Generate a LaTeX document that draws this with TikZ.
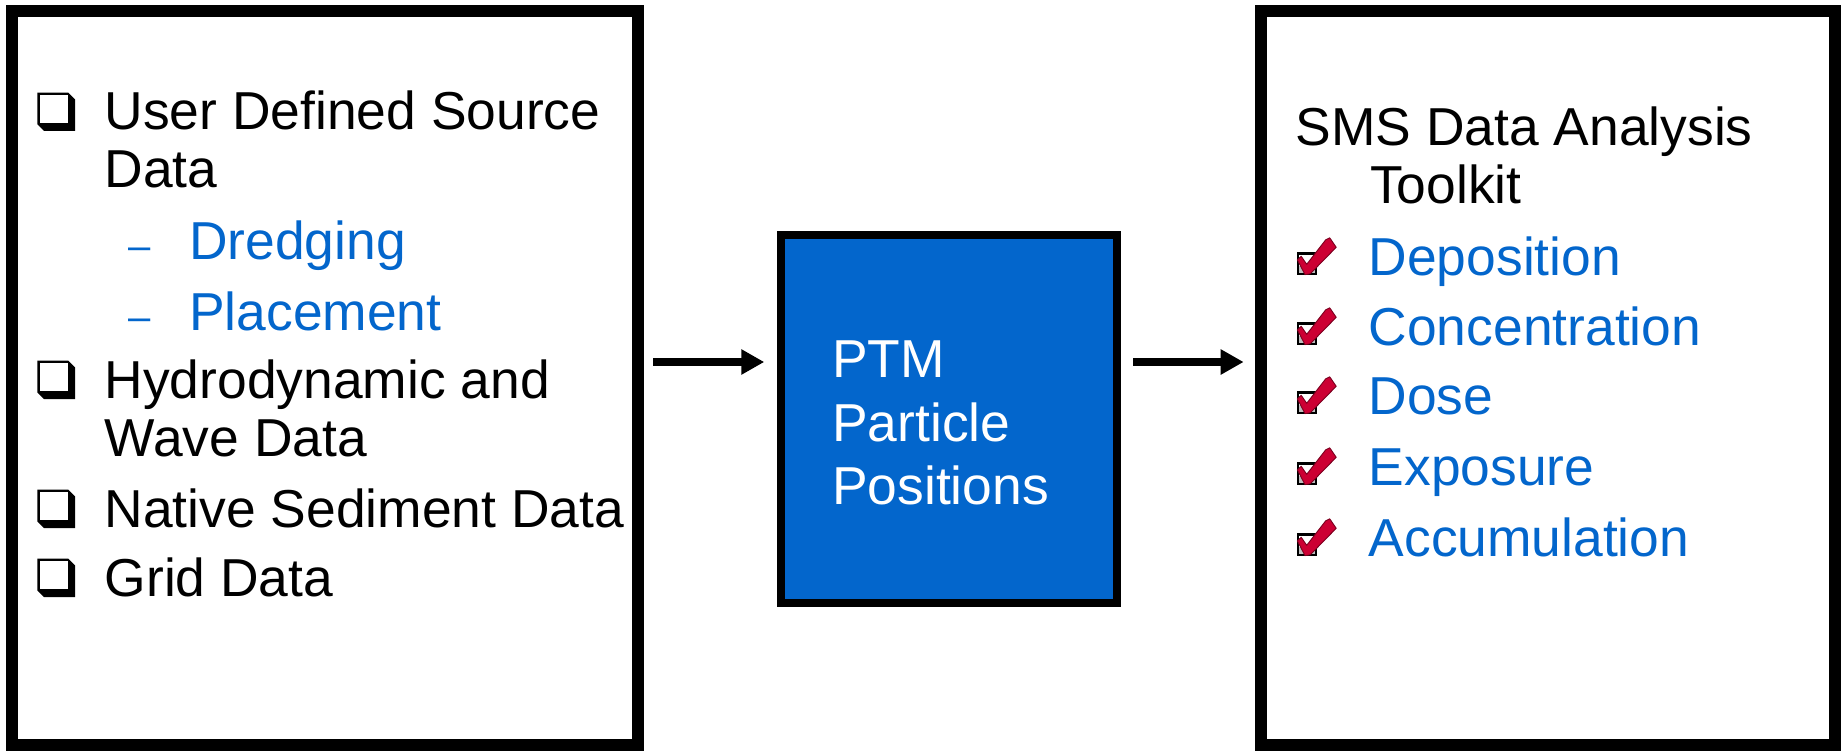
\documentclass[tikz,border=0pt]{standalone}
\usepackage{fontspec}
\setmainfont{Liberation Sans}
\usetikzlibrary{arrows.meta}
\definecolor{ptmblue}{RGB}{3,102,204}
\definecolor{chkred}{RGB}{204,0,51}
\begin{document}
\begin{tikzpicture}[x=1pt,y=-1pt,
  frame/.style={draw=black, line width=12pt, fill=white, inner sep=0pt},
  core/.style={draw=black, line width=8.5pt, fill=ptmblue, inner sep=0pt},
  item/.style={anchor=base west, inner sep=0pt, font=\fontsize{53.4}{64}\selectfont},
  subitem/.style={item, text=ptmblue},
  coretext/.style={item, text=white},
  bulletdash/.style={anchor=base west, inner sep=0pt, text=ptmblue, font=\fontsize{40}{48}\selectfont},
  link/.style={line width=7.5pt, -{Triangle[length=23pt,width=24pt]}},
  qbox/.pic={
    \fill[black] (0,-37.3) -- (31,-37.3) -- (37.7,-30.6) -- (37.7,1) -- (6.7,1) -- (0,-5.7) -- cycle;
    \fill[white] (2.7,-34.6) rectangle (31,-6.7);
  },
  tick/.pic={
    \filldraw[fill=white, draw=black, line width=2.5pt] (1.25,1.25) rectangle (19.35,21.45);
    \fill[black!25] (2.6,14) rectangle (18,20.2);
    \filldraw[fill=chkred, draw=chkred!60!black, line width=0.9pt, line join=round]
      (0.6,7.5) -- (4.5,4) -- (10,12) -- (29,-12.5) -- (33,-14.5) -- (39.5,-5)
      -- (13.5,21.5) -- (8.3,22.3) -- cycle;
  }]
\useasboundingbox (0,0) rectangle (1843,751);

% boxes
\node[frame, minimum width=626pt, minimum height=734pt] (inputs) at (325,378) {};
\node[frame, minimum width=574pt, minimum height=734pt] (toolkit) at (1548,378) {};
\node[core, minimum width=336pt, minimum height=367.7pt] (ptm) at (949,418.9) {};

% connectors
\coordinate (flow) at (0,362);
\draw[link, shorten <=9pt, shorten >=12.5pt] (inputs.east |- flow) -- (ptm.west |- flow);
\draw[link, shorten <=11.75pt, shorten >=11.4pt] (ptm.east |- flow) -- (toolkit.west |- flow);

% left list
\pic at (37.3,130) {qbox};
\node[item] (src1) at (104.5,130) {User Defined Source};
\node[item] (src2) at (104.5,188) {Data};
\node[bulletdash] (d1) at (128.3,259) {–};
\node[subitem] (dredge) at (189,259) {Dredging};
\node[bulletdash] (d2) at (128.3,330) {–};
\node[subitem] (place) at (189,330) {Placement};
\pic at (37.3,398) {qbox};
\node[item] (hyd1) at (104.5,398) {Hydrodynamic and};
\node[item] (hyd2) at (104.5,456) {Wave Data};
\pic at (37.3,527) {qbox};
\node[item] (sed) at (104.5,527) {Native Sediment Data};
\pic at (37.3,596) {qbox};
\node[item] (grid) at (104.5,596) {Grid Data};

% middle text
\node[coretext] (ptm1) at (832,377) {PTM};
\node[coretext] (ptm2) at (832,441) {Particle};
\node[coretext] (ptm3) at (832,504) {Positions};

% right list
\node[item] (sms1) at (1295.5,146) {SMS Data Analysis};
\node[item] (sms2) at (1370,203.5) {Toolkit};
\pic at (1296.7,252.3) {tick};
\node[subitem] (dep) at (1368.5,275) {Deposition};
\pic at (1296.7,322.3) {tick};
\node[subitem] (conc) at (1368.5,345) {Concentration};
\pic at (1296.7,391.3) {tick};
\node[subitem] (dose) at (1368.5,414) {Dose};
\pic at (1296.7,462.3) {tick};
\node[subitem] (expo) at (1368.5,485) {Exposure};
\pic at (1296.7,533.3) {tick};
\node[subitem] (acc) at (1368.5,556) {Accumulation};
\end{tikzpicture}
\end{document}
